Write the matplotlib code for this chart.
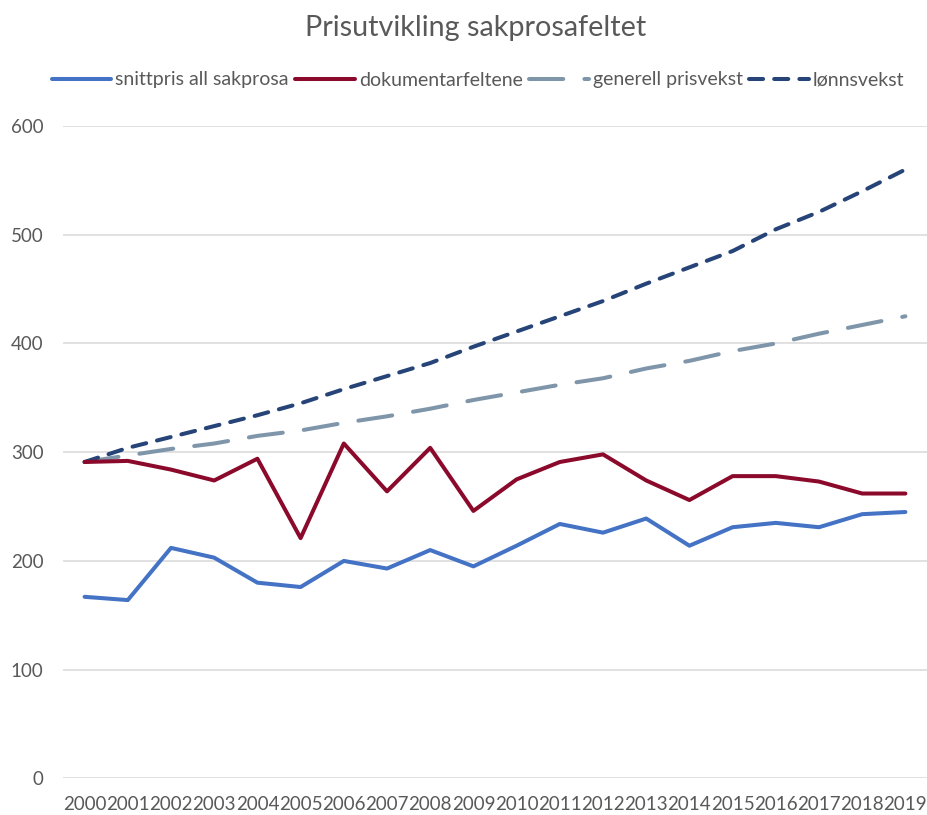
import matplotlib
matplotlib.use("Agg")
import matplotlib.pyplot as plt

years = [str(y) for y in range(2000, 2020)]
snittpris = [167, 164, 212, 203, 180, 176, 200, 193, 210, 195,
             214, 234, 226, 239, 214, 231, 235, 231, 243, 245]
dokumentar = [291, 292, 284, 274, 294, 221, 308, 264, 304, 246,
              275, 291, 298, 274, 256, 278, 278, 273, 262, 262]
prisvekst = [291, 297, 303, 308, 315, 320, 327, 333, 340, 348,
             355, 362, 368, 377, 384, 393, 400, 409, 417, 425]
lonnsvekst = [291, 304, 314, 324, 334, 345, 358, 370, 382, 397,
              411, 425, 439, 455, 470, 485, 505, 521, 540, 560]
yticks = [0, 100, 200, 300, 400, 500, 600]

FONT = ["Lato", "DejaVu Sans"]
plt.rcParams["font.family"] = FONT
TXT = "#595959"

fig = plt.figure(figsize=(9.28, 8.15), dpi=100)
ax = fig.add_axes([63/928, (815-778.4)/815, 864/928, (778.4-126)/815])

x = list(range(len(years)))
lw = 2.9
ax.plot(x, snittpris, color="#4472C4", lw=lw, solid_capstyle="round",
        solid_joinstyle="round", label="snittpris all sakprosa", zorder=3)
ax.plot(x, dokumentar, color="#8B0A2C", lw=lw, solid_capstyle="round",
        solid_joinstyle="round", label="dokumentarfeltene", zorder=3)
ax.plot(x, prisvekst, color="#7F96AA", lw=lw, dashes=(8.5, 5.25),
        dash_capstyle="round", label="generell prisvekst", zorder=2)
ax.plot(x, lonnsvekst, color="#264478", lw=lw, dashes=(3.5, 2.75),
        dash_capstyle="round", label="lønnsvekst", zorder=2)

ax.set_xlim(-0.5, len(years) - 0.5)
ax.set_ylim(0, 600)
ax.set_yticks(yticks)
ax.set_xticks(x)
ax.set_xticklabels(years)
ax.grid(axis="y", color="#D9D9D9", lw=1.1)
ax.set_axisbelow(True)
for s in ax.spines.values():
    s.set_visible(False)
ax.tick_params(axis="both", length=0, labelsize=13.5, colors=TXT)
ax.tick_params(axis="y", pad=14)
ax.tick_params(axis="x", pad=13)

fig.text(476/928, 1 - 28/815, "Prisutvikling sakprosafeltet", ha="center",
         va="center", fontsize=20.7, color=TXT)

fig.legend(loc="center", bbox_to_anchor=(478/928, 1 - 80/815), ncol=4,
           frameon=False, fontsize=14, handlelength=3.05, handletextpad=0.2,
           columnspacing=0.35, labelcolor=TXT)

fig.savefig("out.png", dpi=100)
